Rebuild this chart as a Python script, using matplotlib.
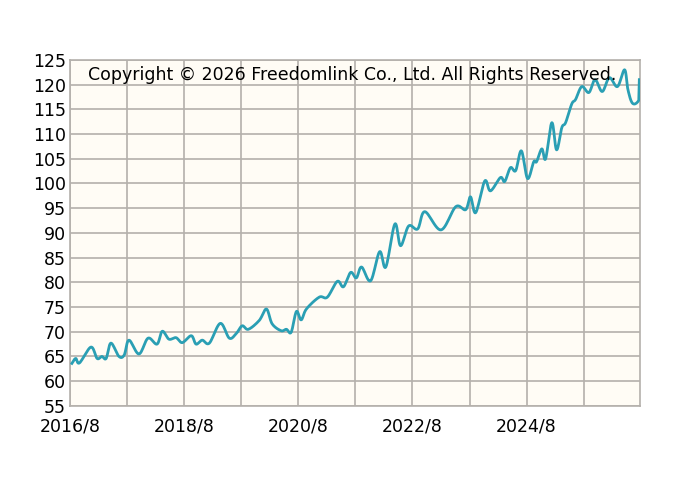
import numpy as np
import matplotlib
matplotlib.use("Agg")
import matplotlib.pyplot as plt

# months since 2016/8
months = [0.4, 1.2, 2.0, 4.4, 5.7, 6.7, 7.6, 8.6, 10.3, 11.4, 12.4, 14.5, 16.4, 18.3,
          19.4, 20.8, 22.3, 23.6, 25.5, 26.5, 27.8, 29.3, 31.6, 33.5, 35.0, 36.2, 37.5,
          39.8, 41.3, 42.5, 44.4, 45.5, 46.5, 47.6, 48.6, 49.7, 52.4, 54.1, 56.2, 57.5,
          59.0, 60.2, 61.3, 63.2, 65.1, 66.4, 68.3, 69.5, 71.2, 73.1, 74.6, 78.0, 81.1,
          83.2, 84.2, 85.3, 87.2, 88.4, 90.5, 91.4, 92.6, 93.7, 94.9, 96.2, 97.5, 98.1,
          99.2, 100.0, 101.3, 102.3, 103.4, 104.2, 105.5, 106.3, 107.6, 109.1, 110.4,
          111.9, 113.4, 115.1, 116.6, 117.3, 118.3, 119.7]
values = [63.6, 64.6, 63.7, 66.9, 64.6, 65.0, 64.6, 67.7, 65.0, 65.3, 68.3, 65.5, 68.7, 67.5,
          70.1, 68.5, 68.8, 67.8, 69.2, 67.5, 68.3, 67.7, 71.7, 68.7, 69.7, 71.2, 70.5,
          72.3, 74.6, 71.6, 70.2, 70.5, 69.9, 74.1, 72.4, 74.6, 77.0, 77.0, 80.2, 79.1,
          82.0, 80.9, 83.1, 80.3, 86.2, 83.1, 91.8, 87.4, 91.4, 90.8, 94.3, 90.6, 95.3,
          94.7, 97.3, 94.1, 100.5, 98.5, 101.2, 100.4, 103.2, 102.6, 106.6, 101.0, 104.4,
          104.4, 107.0, 105.0, 112.3, 106.8, 111.3, 112.3, 116.1, 117.0, 119.6, 118.4,
          121.0, 118.6, 121.4, 119.6, 123.0, 119.0, 116.2, 117.0, 121.0]
x_labels = ["2016/8", "2018/8", "2020/8", "2022/8", "2024/8"]
y_ticks = list(range(55, 126, 5))


def smooth(x, y, n=12):
    # Catmull-Rom curve through the points, for the rounded line look
    x = np.asarray(x, float)
    y = np.asarray(y, float)
    px = np.concatenate([[2 * x[0] - x[1]], x, [2 * x[-1] - x[-2]]])
    py = np.concatenate([[2 * y[0] - y[1]], y, [2 * y[-1] - y[-2]]])
    xs, ys = [], []
    t = np.linspace(0, 1, n, endpoint=False)
    for i in range(1, len(px) - 2):
        for p, out in ((px, xs), (py, ys)):
            p0, p1, p2, p3 = p[i - 1], p[i], p[i + 1], p[i + 2]
            out.extend(0.5 * (2 * p1 + (-p0 + p2) * t + (2 * p0 - 5 * p1 + 4 * p2 - p3) * t ** 2
                              + (-p0 + 3 * p1 - 3 * p2 + p3) * t ** 3))
    xs.append(x[-1])
    ys.append(y[-1])
    return xs, ys


fig = plt.figure(figsize=(7, 4.95), dpi=100)
ax = fig.add_axes([0.1, 0.18, 0.814, 0.699])
ax.set_facecolor("#fffcf5")

sx, sy = smooth(months, values)
ax.plot(sx, sy, color="#2a9fb4", lw=2, zorder=3)

ax.set_xlim(0, 119.8)
ax.set_ylim(55, 125)
ax.set_yticks(y_ticks)
ax.set_xticks(np.arange(0, 120, 12))
ax.set_xticklabels([x_labels[i // 2] if i % 2 == 0 else "" for i in range(10)])
ax.grid(True, color="#b4b0ab", lw=1.2, zorder=0)
ax.tick_params(length=0, labelsize=12.5, pad=8)
ax.tick_params(axis="y", pad=3)
for s in ax.spines.values():
    s.set_color("#b4b0ab")
    s.set_linewidth(1.2)

ax.text(0.495, 0.955, "Copyright © 2026 Freedomlink Co., Ltd. All Rights Reserved.",
        transform=ax.transAxes, ha="center", va="center", fontsize=12.5, zorder=4)

fig.savefig("out.png", dpi=100)
